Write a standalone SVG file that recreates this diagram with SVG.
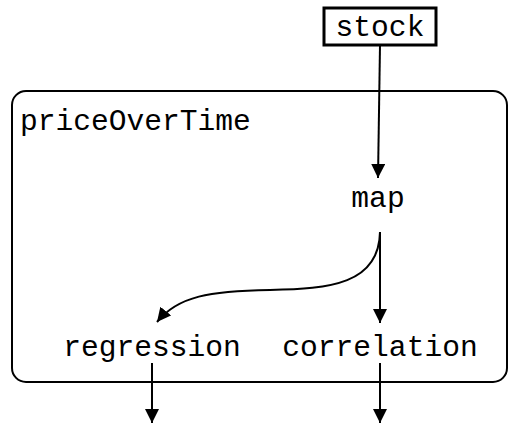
<svg xmlns="http://www.w3.org/2000/svg" width="509" height="425" viewBox="0 0 509 425">
<style>
text{font-family:"Liberation Mono","Courier New",monospace;font-size:29.6px;fill:#000;text-anchor:middle}
.e{fill:none;stroke:#000;stroke-width:2}
</style>
<defs>
<marker id="ah" viewBox="0 0 14 14" refX="14" refY="7" markerWidth="14" markerHeight="14" markerUnits="userSpaceOnUse" orient="auto">
<path d="M0,0 L14,7 L0,14 Z" fill="#000"/>
</marker>
</defs>
<rect width="509" height="425" fill="#fff"/>
<g id="priceOverTime">
<rect x="12" y="91" width="495" height="291" rx="14" fill="none" stroke="#000" stroke-width="2"/>
<text x="20" y="130" style="text-anchor:start">priceOverTime</text>
</g>
<g id="stock">
<rect x="324" y="8" width="112" height="37" fill="#fff" stroke="#000" stroke-width="3"/>
<text x="380" y="36">stock</text>
</g>
<g id="map"><text x="378" y="207">map</text></g>
<g id="regression"><text x="152" y="356">regression</text></g>
<g id="correlation"><text x="380" y="356">correlation</text></g>
<g id="edges">
<path class="e" d="M380,45 L378,178" marker-end="url(#ah)"/>
<path class="e" d="M380,232 L380,323" marker-end="url(#ah)"/>
<path class="e" d="M380,232 C379,284 330,289 270,290 C210,291 178,296 157,322" marker-end="url(#ah)"/>
<path class="e" d="M152,363 L152,423" marker-end="url(#ah)"/>
<path class="e" d="M380,363 L380,423" marker-end="url(#ah)"/>
</g>
</svg>
